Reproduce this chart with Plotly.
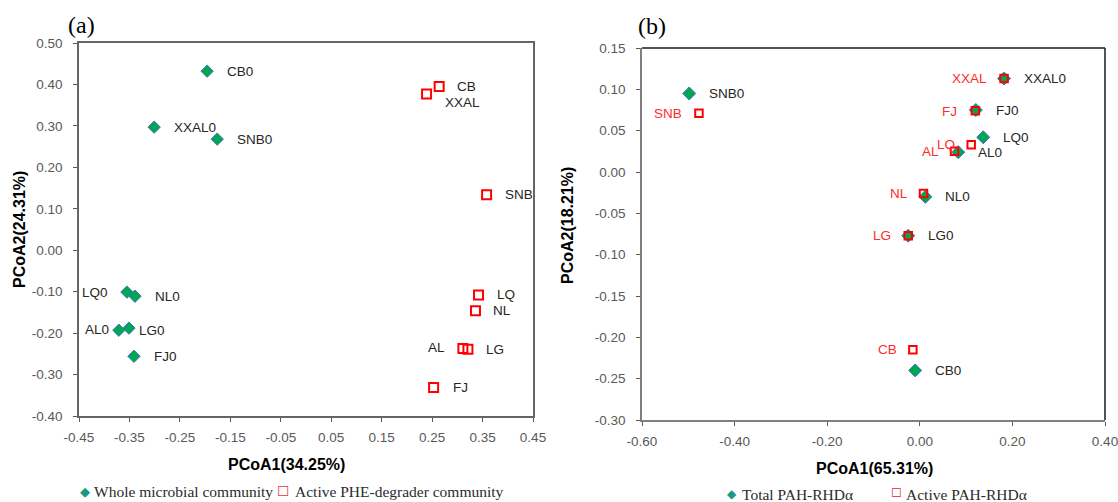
import plotly.graph_objects as go

# ---------------- data ----------------
a_whole_labels = ["CB0", "XXAL0", "SNB0", "LQ0", "NL0", "AL0", "LG0", "FJ0"]
a_whole_x = [-0.196, -0.301, -0.176, -0.355, -0.339, -0.371, -0.351, -0.341]
a_whole_y = [0.432, 0.297, 0.268, -0.101, -0.111, -0.193, -0.188, -0.256]

a_active_labels = ["CB", "XXAL", "SNB", "LQ", "NL", "AL", "LG", "FJ"]
a_active_x = [0.264, 0.239, 0.358, 0.342, 0.336, 0.311, 0.321, 0.253]
a_active_y = [0.395, 0.377, 0.134, -0.108, -0.146, -0.237, -0.239, -0.331]

b_total_labels = ["SNB0", "XXAL0", "FJ0", "LQ0", "AL0", "NL0", "LG0", "CB0"]
b_total_x = [-0.498, 0.182, 0.121, 0.137, 0.083, 0.012, -0.025, -0.010]
b_total_y = [0.095, 0.113, 0.075, 0.042, 0.024, -0.030, -0.077, -0.240]

b_active_labels = ["SNB", "XXAL", "FJ", "LQ", "AL", "NL", "LG", "CB"]
b_active_x = [-0.477, 0.182, 0.120, 0.111, 0.075, 0.008, -0.025, -0.015]
b_active_y = [0.071, 0.113, 0.074, 0.033, 0.025, -0.026, -0.077, -0.215]

a_xticks = [-0.45, -0.35, -0.25, -0.15, -0.05, 0.05, 0.15, 0.25, 0.35, 0.45]
a_xtick_text = ["-0.45", "-0.35", "-0.25", "-0.15", "-0.05", "0.05", "0.15", "0.25", "0.35", "0.45"]
a_yticks = [-0.40, -0.30, -0.20, -0.10, 0.00, 0.10, 0.20, 0.30, 0.40, 0.50]
a_ytick_text = ["-0.40", "-0.30", "-0.20", "-0.10", "0.00", "0.10", "0.20", "0.30", "0.40", "0.50"]
b_xticks = [-0.60, -0.40, -0.20, 0.00, 0.20, 0.40]
b_xtick_text = ["-0.60", "-0.40", "-0.20", "0.00", "0.20", "0.40"]
b_yticks = [-0.30, -0.25, -0.20, -0.15, -0.10, -0.05, 0.00, 0.05, 0.10, 0.15]
b_ytick_text = ["-0.30", "-0.25", "-0.20", "-0.15", "-0.10", "-0.05", "0.00", "0.05", "0.10", "0.15"]

a_xtitle = "PCoA1(34.25%)"
a_ytitle = "PCoA2(24.31%)"
b_xtitle = "PCoA1(65.31%)"
b_ytitle = "PCoA2(18.21%)"
a_legend = ["Whole microbial community", "Active PHE-degrader community"]
b_legend = ["Total PAH-RHDα", "Active PAH-RHDα"]

# ---------------- label placement (pixel offsets: xshift, yshift, side) ----------------
a_whole_off = [(18, 0, "l"), (18, 0, "l"), (18, 0, "l"), (-17, 0, "r"),
               (18, 0, "l"), (-8, 1, "r"), (8, -2, "l"), (18, 0, "l")]
a_active_off = [(16, 0, "l"), (16, -9, "l"), (16, 0, "l"), (16, 0, "l"),
                (16, 0, "l"), (-16, 1, "r"), (16, 0, "l"), (17, 0, "l")]
b_total_off = [(18, 0, "l")] * 8
b_active_off = [(-15, 0, "r"), (-15, 0, "r"), (-16, -1, "r"), (-14, 0, "r"),
                (-14, 0, "r"), (-14, 0, "r"), (-15, 0, "r"), (-14, 0, "r")]

GREEN = "#00A651"
DIAMOND_LINE = "#4472C4"
RED = "#FF0000"
LABEL_RED = "#FF2A2A"
TXT = "#262626"
TICK = "#595959"
SANS = "Liberation Sans, Arial, sans-serif"
SERIF = "Liberation Serif, Times New Roman, serif"

fig = go.Figure()

fig.add_trace(go.Scatter(x=a_whole_x, y=a_whole_y, mode="markers", xaxis="x", yaxis="y",
                         name=a_legend[0], showlegend=False,
                         marker=dict(symbol="diamond", size=9.5, color=GREEN,
                                     line=dict(color=DIAMOND_LINE, width=1))))
fig.add_trace(go.Scatter(x=a_active_x, y=a_active_y, mode="markers", xaxis="x", yaxis="y",
                         name=a_legend[1], showlegend=False,
                         marker=dict(symbol="square-open", size=9, color=RED,
                                     line=dict(color=RED, width=2))))
fig.add_trace(go.Scatter(x=b_total_x, y=b_total_y, mode="markers", xaxis="x2", yaxis="y2",
                         name=b_legend[0], showlegend=False,
                         marker=dict(symbol="diamond", size=10, color=GREEN,
                                     line=dict(color=DIAMOND_LINE, width=1))))
fig.add_trace(go.Scatter(x=b_active_x, y=b_active_y, mode="markers", xaxis="x2", yaxis="y2",
                         name=b_legend[1], showlegend=False,
                         marker=dict(symbol="square-open", size=7.5, color=RED,
                                     line=dict(color=RED, width=2))))

annotations = []


def add_labels(xs, ys, labels, offs, xref, yref, color):
    for x, y, t, (dx, dy, side) in zip(xs, ys, labels, offs):
        annotations.append(dict(x=x, y=y, xref=xref, yref=yref, text=t, showarrow=False,
                                xanchor="left" if side == "l" else "right", yanchor="middle",
                                xshift=dx, yshift=dy,
                                font=dict(family=SANS, size=13.5, color=color)))


add_labels(a_whole_x, a_whole_y, a_whole_labels, a_whole_off, "x", "y", TXT)
add_labels(a_active_x, a_active_y, a_active_labels, a_active_off, "x", "y", TXT)
add_labels(b_total_x, b_total_y, b_total_labels, b_total_off, "x2", "y2", TXT)
add_labels(b_active_x, b_active_y, b_active_labels, b_active_off, "x2", "y2", LABEL_RED)

W, H = 1118, 502


def px(xp):
    return xp / W


def py(yp):
    return 1 - yp / H


def paper_text(xp, yp, text, size, family, color="#000", angle=0, xanchor="center", bold=False):
    annotations.append(dict(x=px(xp), y=py(yp), xref="paper", yref="paper", text=text,
                            showarrow=False, xanchor=xanchor, yanchor="middle",
                            textangle=angle,
                            font=dict(family=family, size=size, color=color,
                                      weight="bold" if bold else "normal")))


# panel letters
paper_text(81, 25, "(a)", 24, SERIF)
paper_text(652, 26, "(b)", 24, SERIF)
# axis titles
paper_text(286, 464, a_xtitle, 16, SANS, "#000", bold=True)
paper_text(19, 230, a_ytitle, 16, SANS, "#000", angle=-90, bold=True)
paper_text(874, 468, b_xtitle, 16, SANS, "#000", bold=True)
paper_text(567, 226, b_ytitle, 16, SANS, "#000", angle=-90, bold=True)
# legends
LEG = "#2b2b2b"
paper_text(85, 491, "◆", 13, "DejaVu Sans", "#1A9A80")
paper_text(92, 491, a_legend[0], 15.5, SERIF, LEG, xanchor="left")
paper_text(283, 491, "☐", 14, "DejaVu Sans", "#E8343C", bold=True)
paper_text(293, 491, a_legend[1], 15.5, SERIF, LEG, xanchor="left")
paper_text(732, 494, "◆", 12, "DejaVu Sans", "#1A9A80")
paper_text(740, 494, b_legend[0], 15.5, SERIF, LEG, xanchor="left")
paper_text(896, 493, "☐", 12, "DejaVu Sans", "#D8283A", bold=True)
paper_text(904, 494, b_legend[1], 15.5, SERIF, LEG, xanchor="left")

axis_common = dict(showgrid=False, zeroline=False, ticks="outside", ticklen=4, tickwidth=1,
                   tickcolor=TICK, showline=True, linewidth=1.5, automargin=False,
                   ticklabeloverflow="allow",
                   tickfont=dict(family=SANS, size=13.5, color=TICK))

fig.update_layout(
    width=W, height=H,
    margin=dict(l=0, r=0, t=0, b=0, autoexpand=False),
    paper_bgcolor="white", plot_bgcolor="white",
    showlegend=False,
    xaxis=dict(domain=[px(79), px(533)], range=[-0.45, 0.45], anchor="y",
               tickvals=a_xticks, ticktext=a_xtick_text, mirror=True, linecolor="#666666",
               ticklabelstandoff=4, **axis_common),
    yaxis=dict(domain=[py(416), py(43)], range=[-0.40, 0.50], anchor="x",
               tickvals=a_yticks, ticktext=a_ytick_text, mirror=True, linecolor="#666666",
               ticklabelstandoff=8, **axis_common),
    xaxis2=dict(domain=[px(642), px(1105)], range=[-0.60, 0.40], anchor="y2",
                tickvals=b_xticks, ticktext=b_xtick_text, linecolor="#7f7f7f",
                ticklabelstandoff=4, **axis_common),
    yaxis2=dict(domain=[py(420), py(48)], range=[-0.30, 0.15], anchor="x2",
                tickvals=b_yticks, ticktext=b_ytick_text, linecolor="#7f7f7f",
                ticklabelstandoff=8, **axis_common),
    annotations=annotations,
    shapes=[
        dict(type="line", xref="x2 domain", yref="y2 domain", x0=0, x1=1, y0=1, y1=1,
             line=dict(color="#1a1a1a", width=1.5)),
        dict(type="line", xref="x2 domain", yref="y2 domain", x0=1, x1=1, y0=0, y1=1,
             line=dict(color="#1a1a1a", width=1.5)),
    ],
)

fig.write_html("out.html", config={"displayModeBar": False},
               post_script="document.body.style.margin='0';")
